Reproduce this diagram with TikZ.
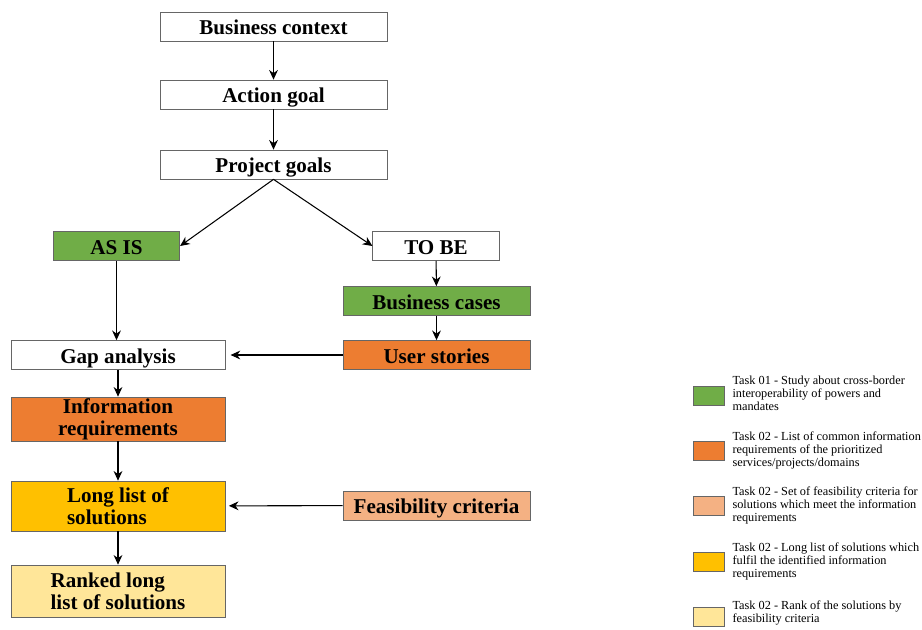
\documentclass[tikz,border=0pt]{standalone}
\usepackage{fontspec}
\setmainfont{Liberation Serif}
\usetikzlibrary{arrows.meta,positioning}

\definecolor{taskgreen}{HTML}{70AD47}
\definecolor{taskorange}{HTML}{ED7D31}
\definecolor{tasksalmon}{HTML}{F4B183}
\definecolor{taskgold}{HTML}{FFC000}
\definecolor{taskcream}{HTML}{FFE699}

\begin{document}
\begin{tikzpicture}[x=0.02cm,y=-0.02cm,->,>={Stealth[length=5.5pt,width=5pt]},
    semithick,
    box/.style={draw=black!60,thin,inner sep=0pt,minimum height=0.58cm,
        align=center,font=\bfseries\fontsize{12}{12.5}\selectfont},
    oneline/.style={text height=10.5pt,text depth=1pt},
    topbox/.style={box,oneline,minimum width=4.54cm},
    midbox/.style={box,oneline,minimum width=2.53cm},
    rightbox/.style={box,oneline,minimum width=3.74cm},
    leftbox/.style={box,minimum width=4.28cm},
    key/.style={draw=black!60,thin,minimum width=0.62cm,minimum height=0.38cm,
        inner sep=0pt},
    keytext/.style={anchor=west,inner sep=0pt,align=left,
        font=\fontsize{7}{7.4}\selectfont}]
    \useasboundingbox (0,0) rectangle (922,629);

    \node[topbox]                     (ctx)   at (273.5,26.5)  {Business context};
    \node[topbox]                     (act)   at (273.5,94.5)  {Action goal};
    \node[topbox]                     (proj)  at (273.5,164.5) {Project goals};
    \node[midbox,fill=taskgreen]      (asis)  at (116.5,246)   {AS IS};
    \node[midbox]                     (tobe)  at (436,246)     {TO BE};
    \node[rightbox,fill=taskgreen]    (cases) at (436.5,301)   {Business cases};
    \node[rightbox,fill=taskorange]   (story) at (436.5,355)   {User stories};
    \node[leftbox,oneline]            (gap)   at (118,355)     {Gap analysis};
    \node[leftbox,fill=taskorange,minimum height=0.88cm]
                                      (req)   at (118,419)     {Information\\requirements};
    \node[leftbox,fill=taskgold,minimum height=1cm,align=left]
                                      (long)  at (118,506)     {Long list of\\solutions};
    \node[leftbox,fill=taskcream,minimum height=1.04cm,align=left]
                                      (rank)  at (118,591)     {Ranked long\\list of solutions};
    \node[rightbox,fill=tasksalmon]   (feas)  at (436.5,505.5) {Feasibility criteria};

    \draw (ctx) -- (act);
    \draw (act) -- (proj);
    \draw (proj.south) -- (asis.east);
    \draw (proj.south) -- (tobe.west);
    \draw (asis.south) -- (asis.south |- gap.north);
    \draw (tobe) -- (cases);
    \draw (cases) -- (story);
    \draw[shorten >=3pt] (story) -- (gap);
    \draw (gap) -- (req);
    \draw (req) -- (long);
    \draw (long) -- (rank);
    \draw[shorten >=2pt] (feas) -- (long);

    \node[key,fill=taskgreen]  (k1) at (708.5,395.5) {};
    \node[key,fill=taskorange] (k2) at (708.5,450.5) {};
    \node[key,fill=tasksalmon] (k3) at (708.5,505.5) {};
    \node[key,fill=taskgold]   (k4) at (708.5,561.5) {};
    \node[key,fill=taskcream]  (k5) at (708.5,616.5) {};

    \node[keytext] (t1) at (732,393.5) {Task 01 - Study about cross-border\\interoperability of powers and\\mandates};
    \node[keytext] (t2) at (732,450)   {Task 02 - List of common information\\requirements of the prioritized\\services/projects/domains};
    \node[keytext] (t3) at (732,505.5) {Task 02 - Set of feasibility criteria for\\solutions which meet the information\\requirements};
    \node[keytext] (t4) at (732,561.5) {Task 02 - Long list of solutions which\\fulfil the identified information\\requirements};
    \node[keytext] (t5) at (732,612.5) {Task 02 - Rank of the solutions by\\feasibility criteria};
\end{tikzpicture}
\end{document}
